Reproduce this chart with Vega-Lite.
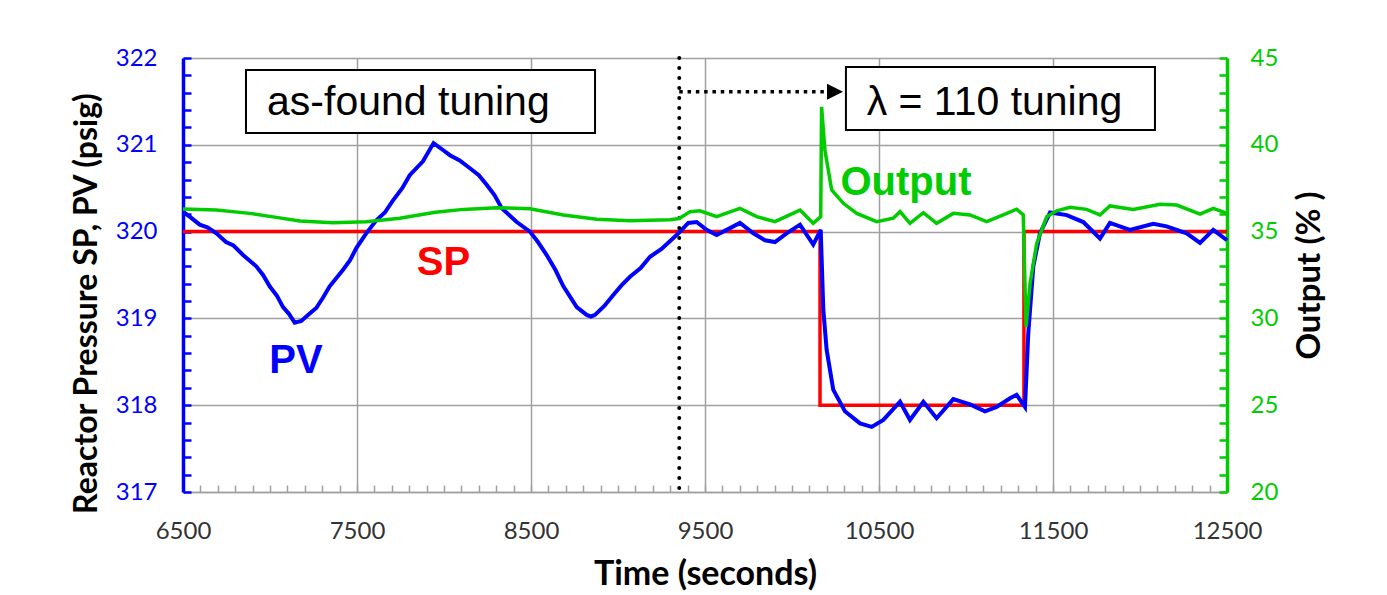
{
  "$schema": "https://vega.github.io/schema/vega-lite/v6.json",
  "width": 1044,
  "height": 434,
  "autosize": {"type": "none"},
  "padding": {"left": 183, "top": 58, "right": 160, "bottom": 103},
  "background": "white",
  "config": {"view": {"stroke": null}, "font": "Lato"},
  "datasets": {
    "sp": [
      {"t": 6500, "v": 320}, {"t": 10161, "v": 318}, {"t": 11333, "v": 320}, {"t": 12500, "v": 320}
    ],
    "pv": [
      {"t": 6500, "v": 320.23}, {"t": 6540, "v": 320.17}, {"t": 6596, "v": 320.08}, {"t": 6640, "v": 320.05}, {"t": 6692, "v": 319.98}, {"t": 6747, "v": 319.88},
      {"t": 6790, "v": 319.84}, {"t": 6845, "v": 319.73}, {"t": 6921, "v": 319.6}, {"t": 6960, "v": 319.5}, {"t": 6998, "v": 319.37}, {"t": 7040, "v": 319.26}, {"t": 7075, "v": 319.13},
      {"t": 7110, "v": 319.05}, {"t": 7142, "v": 318.95}, {"t": 7180, "v": 318.97}, {"t": 7225, "v": 319.05}, {"t": 7266, "v": 319.12}, {"t": 7305, "v": 319.24}, {"t": 7343, "v": 319.37},
      {"t": 7420, "v": 319.56}, {"t": 7460, "v": 319.67}, {"t": 7496, "v": 319.81}, {"t": 7553, "v": 319.98}, {"t": 7611, "v": 320.13}, {"t": 7660, "v": 320.22},
      {"t": 7707, "v": 320.36}, {"t": 7760, "v": 320.5}, {"t": 7803, "v": 320.65}, {"t": 7879, "v": 320.81}, {"t": 7940, "v": 321.02},
      {"t": 7994, "v": 320.94}, {"t": 8034, "v": 320.88}, {"t": 8090, "v": 320.82}, {"t": 8149, "v": 320.73}, {"t": 8200, "v": 320.65}, {"t": 8245, "v": 320.54},
      {"t": 8290, "v": 320.42}, {"t": 8332, "v": 320.27}, {"t": 8418, "v": 320.11}, {"t": 8494, "v": 320.0}, {"t": 8540, "v": 319.88}, {"t": 8590, "v": 319.73},
      {"t": 8640, "v": 319.56}, {"t": 8686, "v": 319.37}, {"t": 8763, "v": 319.13}, {"t": 8820, "v": 319.04}, {"t": 8845, "v": 319.02}, {"t": 8868, "v": 319.04},
      {"t": 8920, "v": 319.14}, {"t": 8973, "v": 319.27}, {"t": 9020, "v": 319.38}, {"t": 9069, "v": 319.48}, {"t": 9130, "v": 319.58}, {"t": 9184, "v": 319.71}, {"t": 9250, "v": 319.8},
      {"t": 9337, "v": 319.96}, {"t": 9404, "v": 320.1}, {"t": 9452, "v": 320.11}, {"t": 9509, "v": 320.02},
      {"t": 9567, "v": 319.96}, {"t": 9644, "v": 320.04}, {"t": 9701, "v": 320.1}, {"t": 9778, "v": 319.98},
      {"t": 9845, "v": 319.9}, {"t": 9902, "v": 319.88}, {"t": 9969, "v": 319.98}, {"t": 10046, "v": 320.08},
      {"t": 10122, "v": 319.85}, {"t": 10165, "v": 320.02}, {"t": 10180, "v": 319.1}, {"t": 10199, "v": 318.64},
      {"t": 10237, "v": 318.18}, {"t": 10304, "v": 317.93}, {"t": 10391, "v": 317.79}, {"t": 10458, "v": 317.75},
      {"t": 10525, "v": 317.83}, {"t": 10621, "v": 318.04}, {"t": 10678, "v": 317.83}, {"t": 10755, "v": 318.04},
      {"t": 10831, "v": 317.85}, {"t": 10927, "v": 318.07}, {"t": 11023, "v": 318.01}, {"t": 11109, "v": 317.93},
      {"t": 11176, "v": 317.98}, {"t": 11253, "v": 318.08}, {"t": 11291, "v": 318.12}, {"t": 11339, "v": 317.98},
      {"t": 11358, "v": 318.83}, {"t": 11387, "v": 319.6}, {"t": 11425, "v": 319.98}, {"t": 11483, "v": 320.22},
      {"t": 11579, "v": 320.19}, {"t": 11674, "v": 320.11}, {"t": 11770, "v": 319.92}, {"t": 11827, "v": 320.1},
      {"t": 11942, "v": 320.02}, {"t": 12076, "v": 320.09}, {"t": 12153, "v": 320.06}, {"t": 12268, "v": 319.98},
      {"t": 12345, "v": 319.87}, {"t": 12421, "v": 320.02}, {"t": 12500, "v": 319.9}
    ],
    "out": [
      {"t": 6500, "o": 36.3}, {"t": 6692, "o": 36.24}, {"t": 6883, "o": 36.05}, {"t": 7036, "o": 35.82},
      {"t": 7171, "o": 35.61}, {"t": 7362, "o": 35.51}, {"t": 7553, "o": 35.57}, {"t": 7745, "o": 35.77},
      {"t": 7950, "o": 36.12}, {"t": 8111, "o": 36.28}, {"t": 8302, "o": 36.38}, {"t": 8494, "o": 36.32},
      {"t": 8686, "o": 35.96}, {"t": 8878, "o": 35.71}, {"t": 9069, "o": 35.63}, {"t": 9299, "o": 35.68},
      {"t": 9352, "o": 35.75}, {"t": 9414, "o": 36.15}, {"t": 9471, "o": 36.2}, {"t": 9567, "o": 35.86},
      {"t": 9701, "o": 36.34}, {"t": 9797, "o": 35.86}, {"t": 9902, "o": 35.57}, {"t": 10046, "o": 36.24},
      {"t": 10122, "o": 35.48}, {"t": 10165, "o": 35.86}, {"t": 10170, "o": 42.19}, {"t": 10189, "o": 39.7},
      {"t": 10228, "o": 37.4}, {"t": 10295, "o": 36.63}, {"t": 10372, "o": 36.05}, {"t": 10487, "o": 35.57},
      {"t": 10582, "o": 35.77}, {"t": 10621, "o": 36.15}, {"t": 10678, "o": 35.48}, {"t": 10755, "o": 36.09},
      {"t": 10831, "o": 35.48}, {"t": 10927, "o": 36.05}, {"t": 11023, "o": 35.96}, {"t": 11119, "o": 35.57},
      {"t": 11214, "o": 35.96}, {"t": 11291, "o": 36.29}, {"t": 11329, "o": 35.96}, {"t": 11345, "o": 29.52},
      {"t": 11368, "o": 32.0}, {"t": 11406, "o": 34.3}, {"t": 11464, "o": 35.86}, {"t": 11521, "o": 36.2},
      {"t": 11598, "o": 36.4}, {"t": 11693, "o": 36.28}, {"t": 11770, "o": 35.96}, {"t": 11827, "o": 36.48},
      {"t": 11961, "o": 36.28}, {"t": 12115, "o": 36.57}, {"t": 12211, "o": 36.53}, {"t": 12345, "o": 36.01},
      {"t": 12421, "o": 36.34}, {"t": 12500, "o": 36.05}
    ]
  },
  "layer": [
    {
      "data": {"name": "sp"},
      "mark": {"type": "line", "color": "#ff0000", "strokeWidth": 3.5, "interpolate": "step-after"},
      "encoding": {
        "x": {
          "field": "t", "type": "quantitative",
          "scale": {"domain": [6500, 12500], "nice": false, "zero": false},
          "axis": {
            "orient": "bottom",
            "title": "Time (seconds)",
            "values": [6500,6600,6700,6800,6900,7000,7100,7200,7300,7400,7500,7600,7700,7800,7900,8000,8100,8200,8300,8400,8500,8600,8700,8800,8900,9000,9100,9200,9300,9400,9500,9600,9700,9800,9900,10000,10100,10200,10300,10400,10500,10600,10700,10800,10900,11000,11100,11200,11300,11400,11500,11600,11700,11800,11900,12000,12100,12200,12300,12400,12500],
            "format": "d",
            "labelExpr": "(datum.value - 6500) % 1000 == 0 ? datum.label : ''",
            "labelOverlap": false,
            "labelFlush": false,
            "grid": false,
            "domainColor": "#a0a0a0",
            "domainWidth": 1.5,
            "tickColor": "#a0a0a0",
            "tickWidth": 1.5,
            "tickSize": -7,
            "labelColor": "#333333",
            "labelFont": "Lato",
            "labelFontSize": 24,
            "labelPadding": 34,
            "titleFont": "Lato",
            "titleFontSize": 34,
            "titleFontWeight": "bold",
            "titleColor": "#000000",
            "titlePadding": 14
          }
        },
        "y": {
          "field": "v", "type": "quantitative",
          "scale": {"domain": [317, 322], "nice": false, "zero": false},
          "axis": {
            "orient": "left",
            "title": "Reactor Pressure SP, PV (psig)",
            "values": [317,317.2,317.4,317.6,317.8,318,318.2,318.4,318.6,318.8,319,319.2,319.4,319.6,319.8,320,320.2,320.4,320.6,320.8,321,321.2,321.4,321.6,321.8,322],
            "format": ".0f",
            "labelExpr": "abs(datum.value - round(datum.value)) < 0.01 ? datum.label : ''",
            "labelOverlap": false,
            "labelFlush": false,
            "grid": false,
            "domainColor": "#0000ff",
            "domainWidth": 3.5,
            "tickColor": "#0000ff",
            "tickWidth": 2.5,
            "tickSize": -8,
            "labelColor": "#0000ff",
            "labelFont": "Lato",
            "labelFontSize": 24,
            "labelPadding": 34,
            "titleFont": "Lato",
            "titleFontSize": 32,
            "titleFontWeight": "bold",
            "titleColor": "#000000",
            "titlePadding": 12,
            "titleY": 245
          }
        }
      }
    },
    {
      "data": {"name": "pv"},
      "mark": {"type": "line", "color": "#0000ff", "strokeWidth": 4},
      "encoding": {
        "x": {
          "field": "t", "type": "quantitative",
          "scale": {"domain": [6500, 12500], "nice": false, "zero": false},
          "axis": {
            "orient": "bottom",
            "values": [6500, 7500, 8500, 9500, 10500, 11500, 12500],
            "grid": true, "gridColor": "#a0a0a0", "gridWidth": 1.5,
            "domain": false, "ticks": false, "labels": false, "title": null
          }
        },
        "y": {
          "field": "v", "type": "quantitative",
          "scale": {"domain": [317, 322], "nice": false, "zero": false},
          "axis": {
            "orient": "left",
            "values": [317, 318, 319, 320, 321, 322],
            "grid": true, "gridColor": "#a0a0a0", "gridWidth": 1.5,
            "domain": false, "ticks": false, "labels": false, "title": null
          }
        }
      }
    },
    {
      "data": {"values": [{"t": 9352}]},
      "mark": {"type": "rule", "color": "#000000", "strokeWidth": 4, "strokeDash": [0.1, 9.9], "strokeCap": "round"},
      "encoding": {
        "x": {"field": "t", "type": "quantitative", "scale": {"domain": [6500, 12500], "nice": false, "zero": false}, "axis": null}
      }
    },
    {
      "data": {"values": [{"t": 9352, "t2": 10207, "v": 321.612}]},
      "mark": {"type": "rule", "color": "#000000", "strokeWidth": 3.5, "strokeDash": [3.5, 4.8]},
      "encoding": {
        "x": {"field": "t", "type": "quantitative", "scale": {"domain": [6500, 12500], "nice": false, "zero": false}, "axis": null},
        "x2": {"field": "t2"},
        "y": {"field": "v", "type": "quantitative", "scale": {"domain": [317, 322], "nice": false, "zero": false}, "axis": null}
      }
    },
    {
      "data": {"values": [{"t": 10247, "v": 321.612}]},
      "mark": {"type": "point", "shape": "M -1 -1 L 1 0 L -1 1 Z", "size": 256, "filled": true, "color": "#000000", "opacity": 1},
      "encoding": {
        "x": {"field": "t", "type": "quantitative", "scale": {"domain": [6500, 12500], "nice": false, "zero": false}, "axis": null},
        "y": {"field": "v", "type": "quantitative", "scale": {"domain": [317, 322], "nice": false, "zero": false}, "axis": null}
      }
    },
    {
      "data": {"values": [
        {"t": 6862, "t2": 8868, "v": 321.862, "v2": 321.136},
        {"t": 10310, "t2": 12086, "v": 321.896, "v2": 321.171}
      ]},
      "mark": {"type": "rect", "fill": "#ffffff", "stroke": "#000000", "strokeWidth": 2},
      "encoding": {
        "x": {"field": "t", "type": "quantitative", "scale": {"domain": [6500, 12500], "nice": false, "zero": false}, "axis": null},
        "x2": {"field": "t2"},
        "y": {"field": "v", "type": "quantitative", "scale": {"domain": [317, 322], "nice": false, "zero": false}, "axis": null},
        "y2": {"field": "v2"}
      }
    },
    {
      "data": {"values": [
        {"t": 6983, "v": 321.343, "label": "as-found tuning"},
        {"t": 10429, "v": 321.343, "label": "λ = 110 tuning"}
      ]},
      "mark": {"type": "text", "font": "Liberation Sans", "fontSize": 41, "color": "#000000", "align": "left", "baseline": "alphabetic"},
      "encoding": {
        "x": {"field": "t", "type": "quantitative", "scale": {"domain": [6500, 12500], "nice": false, "zero": false}, "axis": null},
        "y": {"field": "v", "type": "quantitative", "scale": {"domain": [317, 322], "nice": false, "zero": false}, "axis": null},
        "text": {"field": "label"}
      }
    },
    {
      "data": {"values": [{"t": 7997, "v": 319.5, "label": "SP"}]},
      "mark": {"type": "text", "font": "Liberation Sans", "fontSize": 40, "fontWeight": "bold", "color": "#ff0000", "align": "center", "baseline": "alphabetic"},
      "encoding": {
        "x": {"field": "t", "type": "quantitative", "scale": {"domain": [6500, 12500], "nice": false, "zero": false}, "axis": null},
        "y": {"field": "v", "type": "quantitative", "scale": {"domain": [317, 322], "nice": false, "zero": false}, "axis": null},
        "text": {"field": "label"}
      }
    },
    {
      "data": {"values": [{"t": 7149, "v": 318.374, "label": "PV"}]},
      "mark": {"type": "text", "font": "Liberation Sans", "fontSize": 40, "fontWeight": "bold", "color": "#0000ff", "align": "center", "baseline": "alphabetic"},
      "encoding": {
        "x": {"field": "t", "type": "quantitative", "scale": {"domain": [6500, 12500], "nice": false, "zero": false}, "axis": null},
        "y": {"field": "v", "type": "quantitative", "scale": {"domain": [317, 322], "nice": false, "zero": false}, "axis": null},
        "text": {"field": "label"}
      }
    },
    {
      "data": {"values": [{"t": 10655, "v": 320.42, "label": "Output"}]},
      "mark": {"type": "text", "font": "Liberation Sans", "fontSize": 40, "fontWeight": "bold", "color": "#00cc00", "align": "center", "baseline": "alphabetic"},
      "encoding": {
        "x": {"field": "t", "type": "quantitative", "scale": {"domain": [6500, 12500], "nice": false, "zero": false}, "axis": null},
        "y": {"field": "v", "type": "quantitative", "scale": {"domain": [317, 322], "nice": false, "zero": false}, "axis": null},
        "text": {"field": "label"}
      }
    },
    {
      "data": {"name": "out"},
      "mark": {"type": "line", "color": "#00cc00", "strokeWidth": 3.5},
      "encoding": {
        "x": {"field": "t", "type": "quantitative", "scale": {"domain": [6500, 12500], "nice": false, "zero": false}, "axis": null},
        "y": {
          "field": "o", "type": "quantitative",
          "scale": {"domain": [20, 45], "nice": false, "zero": false},
          "axis": {
            "orient": "right",
            "title": "Output (% )",
            "values": [20,21,22,23,24,25,26,27,28,29,30,31,32,33,34,35,36,37,38,39,40,41,42,43,44,45],
            "format": "d",
            "labelExpr": "datum.value % 5 == 0 ? datum.label : ''",
            "labelOverlap": false,
            "labelFlush": false,
            "grid": false,
            "domainColor": "#00cc00",
            "domainWidth": 3.5,
            "tickColor": "#00cc00",
            "tickWidth": 2.5,
            "tickSize": -8,
            "labelColor": "#00cc00",
            "labelFont": "Lato",
            "labelFontSize": 24,
            "labelPadding": 31,
            "titleFont": "Lato",
            "titleFontSize": 33,
            "titleFontWeight": "bold",
            "titleColor": "#000000",
            "titleAngle": 270,
            "titleBaseline": "top",
            "titlePadding": 16
          }
        }
      }
    }
  ],
  "resolve": {"scale": {"y": "independent"}, "axis": {"x": "independent", "y": "independent"}}
}
